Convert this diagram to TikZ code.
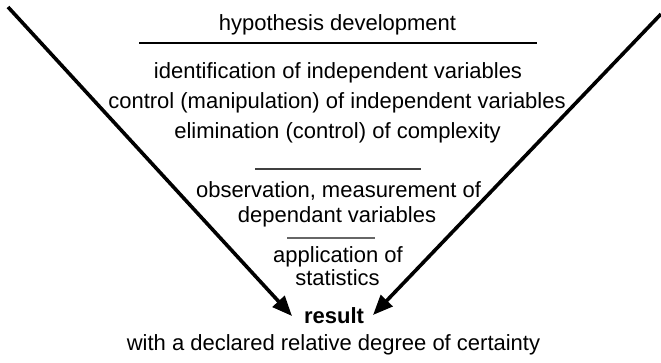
\documentclass[tikz,border=0pt]{standalone}
\usepackage{fontspec}
\setmainfont{Liberation Sans}
\usetikzlibrary{arrows.meta}
\begin{document}
\begin{tikzpicture}[x=1pt, y=-1pt,
		txt/.style={anchor=base, inner sep=0pt, font=\fontsize{22}{26}\selectfont},
		rule/.style={line width=1.3pt},
		arr/.style={line width=3.6pt, -{Triangle[length=20pt, width=16pt]}}]
		\useasboundingbox (0,0) rectangle (661,362);
		% Place nodes
		\node [txt] (hypo) at (337.5,30) {hypothesis development};
		\node [txt] (ident) at (338,78) {identification of independent variables};
		\node [txt] (ctrl) at (337,108) {control (manipulation) of independent variables};
		\node [txt] (elim) at (337.5,138) {elimination (control) of complexity};
		\node [txt] (obs) at (338.5,197) {observation, measurement of};
		\node [txt] (dep) at (337,222) {dependant variables};
		\node [txt] (appl) at (338,262) {application of};
		\node [txt] (stat) at (337.5,285) {statistics};
		\node [txt, font=\fontsize{22}{26}\selectfont\bfseries] (result) at (334,323) {result};
		\node [txt] (cert) at (333.5,350) {with a declared relative degree of certainty};
		
		% Separators
		\coordinate (sepA1) at (139,43);
		\coordinate (sepA2) at (537,43);
		\coordinate (sepB1) at (255,169);
		\coordinate (sepB2) at (421,169);
		\coordinate (sepC1) at (287,238);
		\coordinate (sepC2) at (375,238);
		\draw [rule] (sepA1) -- (sepA2);
		\draw [rule, black!75] (sepB1) -- (sepB2);
		\draw [rule, black!60] (sepC1) -- (sepC2);
		
		% Arrows
		\coordinate (lstart) at (8,7);
		\coordinate (ltip) at (292,316);
		\coordinate (rstart) at (661,14);
		\coordinate (rtip) at (373,315);
		\draw [arr] (lstart) -- (ltip);
		\draw [arr] (rstart) -- (rtip);
	\end{tikzpicture}
\end{document}
